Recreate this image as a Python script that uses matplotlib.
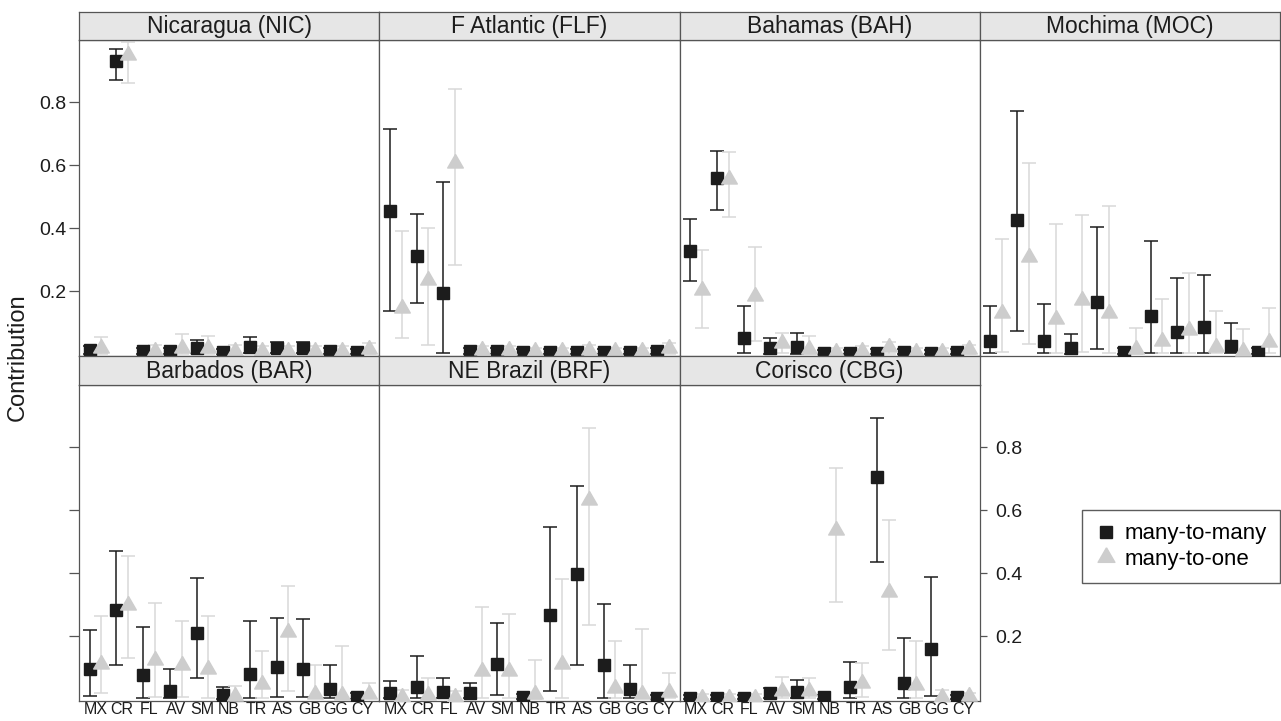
import matplotlib
matplotlib.use("Agg")
import matplotlib.pyplot as plt
from matplotlib.lines import Line2D

plt.rcParams['font.family'] = ['Liberation Sans', 'DejaVu Sans']

categories = ["MX", "CR", "FL", "AV", "SM", "NB", "TR", "AS", "GB", "GG", "CY"]

# Nicaragua (NIC)
nic_m2m = [0.013, 0.93, 0.010, 0.010, 0.020, 0.008, 0.022, 0.018, 0.020, 0.010, 0.008]
nic_m2m_lo = [0.0, 0.87, 0.0, 0.0, 0.002, 0.0, 0.002, 0.002, 0.002, 0.0, 0.0]
nic_m2m_hi = [0.025, 0.968, 0.02, 0.02, 0.044, 0.015, 0.055, 0.039, 0.040, 0.02, 0.015]
nic_m2o = [0.020, 0.95, 0.010, 0.020, 0.020, 0.010, 0.010, 0.010, 0.010, 0.010, 0.015]
nic_m2o_lo = [0.0, 0.86, 0.0, 0.0, 0.0, 0.0, 0.0, 0.0, 0.0, 0.0, 0.0]
nic_m2o_hi = [0.054, 0.99, 0.03, 0.064, 0.058, 0.03, 0.025, 0.025, 0.025, 0.025, 0.034]

# F Atlantic (FLF)
flf_m2m = [0.455, 0.311, 0.195, 0.010, 0.010, 0.008, 0.008, 0.008, 0.008, 0.008, 0.010]
flf_m2m_lo = [0.137, 0.163, 0.005, 0.0, 0.0, 0.0, 0.0, 0.0, 0.0, 0.0, 0.0]
flf_m2m_hi = [0.714, 0.444, 0.547, 0.02, 0.02, 0.015, 0.015, 0.015, 0.015, 0.015, 0.02]
flf_m2o = [0.145, 0.235, 0.608, 0.012, 0.012, 0.010, 0.010, 0.012, 0.010, 0.010, 0.020]
flf_m2o_lo = [0.052, 0.030, 0.283, 0.0, 0.0, 0.0, 0.0, 0.0, 0.0, 0.0, 0.0]
flf_m2o_hi = [0.39, 0.40, 0.843, 0.025, 0.025, 0.02, 0.02, 0.03, 0.02, 0.02, 0.035]

# Bahamas (BAH)
bah_m2m = [0.328, 0.56, 0.052, 0.018, 0.023, 0.005, 0.005, 0.005, 0.008, 0.005, 0.008]
bah_m2m_lo = [0.232, 0.457, 0.004, 0.001, 0.001, 0.0, 0.0, 0.0, 0.0, 0.0, 0.0]
bah_m2m_hi = [0.429, 0.644, 0.154, 0.052, 0.066, 0.012, 0.012, 0.015, 0.015, 0.012, 0.015]
bah_m2o = [0.203, 0.556, 0.185, 0.034, 0.015, 0.007, 0.010, 0.022, 0.008, 0.008, 0.015]
bah_m2o_lo = [0.084, 0.436, 0.041, 0.003, 0.0, 0.0, 0.0, 0.0, 0.0, 0.0, 0.0]
bah_m2o_hi = [0.332, 0.642, 0.339, 0.068, 0.058, 0.02, 0.025, 0.038, 0.02, 0.02, 0.03]

# Mochima (MOC)
moc_m2m = [0.042, 0.425, 0.042, 0.018, 0.166, 0.007, 0.122, 0.071, 0.085, 0.026, 0.007]
moc_m2m_lo = [0.002, 0.074, 0.002, 0.0, 0.015, 0.0, 0.005, 0.004, 0.004, 0.004, 0.0]
moc_m2m_hi = [0.153, 0.771, 0.159, 0.063, 0.405, 0.02, 0.36, 0.24, 0.25, 0.099, 0.02]
moc_m2o = [0.129, 0.309, 0.113, 0.171, 0.129, 0.015, 0.042, 0.076, 0.023, 0.010, 0.039]
moc_m2o_lo = [0.007, 0.032, 0.004, 0.007, 0.002, 0.0, 0.002, 0.002, 0.002, 0.0, 0.002]
moc_m2o_hi = [0.366, 0.607, 0.414, 0.442, 0.471, 0.083, 0.175, 0.258, 0.137, 0.081, 0.147]

# Barbados (BAR)
bar_m2m = [0.094, 0.283, 0.078, 0.026, 0.21, 0.013, 0.081, 0.103, 0.094, 0.031, 0.008]
bar_m2m_lo = [0.01, 0.107, 0.005, 0.002, 0.066, 0.0, 0.005, 0.006, 0.006, 0.005, 0.0]
bar_m2m_hi = [0.218, 0.471, 0.23, 0.094, 0.384, 0.037, 0.248, 0.259, 0.255, 0.108, 0.02]
bar_m2o = [0.113, 0.298, 0.124, 0.108, 0.097, 0.010, 0.048, 0.214, 0.017, 0.013, 0.017]
bar_m2o_lo = [0.02, 0.131, 0.006, 0.006, 0.002, 0.0, 0.002, 0.026, 0.002, 0.002, 0.002]
bar_m2o_hi = [0.265, 0.455, 0.304, 0.249, 0.263, 0.042, 0.153, 0.358, 0.108, 0.17, 0.05]

# NE Brazil (BRF)
brf_m2m = [0.018, 0.039, 0.023, 0.020, 0.11, 0.006, 0.267, 0.397, 0.107, 0.031, 0.005]
brf_m2m_lo = [0.002, 0.002, 0.002, 0.002, 0.013, 0.0, 0.026, 0.108, 0.005, 0.005, 0.0]
brf_m2m_hi = [0.057, 0.136, 0.068, 0.052, 0.243, 0.015, 0.545, 0.676, 0.302, 0.108, 0.012]
brf_m2o = [0.008, 0.013, 0.008, 0.09, 0.09, 0.017, 0.113, 0.632, 0.034, 0.017, 0.022]
brf_m2o_lo = [0.0, 0.0, 0.0, 0.002, 0.002, 0.0, 0.002, 0.235, 0.002, 0.002, 0.002]
brf_m2o_hi = [0.03, 0.066, 0.025, 0.291, 0.27, 0.124, 0.38, 0.861, 0.184, 0.223, 0.083]

# Corisco (CBG)
cbg_m2m = [0.005, 0.005, 0.005, 0.018, 0.022, 0.006, 0.039, 0.706, 0.05, 0.159, 0.006]
cbg_m2m_lo = [0.0, 0.0, 0.0, 0.002, 0.002, 0.0, 0.002, 0.436, 0.002, 0.01, 0.0]
cbg_m2m_hi = [0.012, 0.012, 0.012, 0.034, 0.06, 0.012, 0.118, 0.891, 0.193, 0.388, 0.012]
cbg_m2o = [0.005, 0.005, 0.005, 0.026, 0.026, 0.536, 0.05, 0.341, 0.044, 0.006, 0.010]
cbg_m2o_lo = [0.0, 0.0, 0.0, 0.002, 0.002, 0.309, 0.006, 0.156, 0.002, 0.0, 0.0]
cbg_m2o_hi = [0.015, 0.015, 0.015, 0.071, 0.066, 0.732, 0.115, 0.568, 0.184, 0.03, 0.02]

site_titles = ["Nicaragua (NIC)", "F Atlantic (FLF)", "Bahamas (BAH)", "Mochima (MOC)",
               "Barbados (BAR)", "NE Brazil (BRF)", "Corisco (CBG)"]
site_data = [
    (nic_m2m, nic_m2m_lo, nic_m2m_hi, nic_m2o, nic_m2o_lo, nic_m2o_hi),
    (flf_m2m, flf_m2m_lo, flf_m2m_hi, flf_m2o, flf_m2o_lo, flf_m2o_hi),
    (bah_m2m, bah_m2m_lo, bah_m2m_hi, bah_m2o, bah_m2o_lo, bah_m2o_hi),
    (moc_m2m, moc_m2m_lo, moc_m2m_hi, moc_m2o, moc_m2o_lo, moc_m2o_hi),
    (bar_m2m, bar_m2m_lo, bar_m2m_hi, bar_m2o, bar_m2o_lo, bar_m2o_hi),
    (brf_m2m, brf_m2m_lo, brf_m2m_hi, brf_m2o, brf_m2o_lo, brf_m2o_hi),
    (cbg_m2m, cbg_m2m_lo, cbg_m2m_hi, cbg_m2o, cbg_m2o_lo, cbg_m2o_hi),
]

W, H = 1281, 721
fig = plt.figure(figsize=(W / 100, H / 100), dpi=100)

FRAME = "#555555"
DARK = "#1c1c1c"
LIGHT = "#cdcdcd"
LIGHT_BAR = "#d8d8d8"
# equilateral triangle centred on its centroid (like R pch 17)
TRI = [(0, 1), (-0.866, -0.5), (0.866, -0.5), (0, 1)]


def px_axes(x0, y0, x1, y1):
    return fig.add_axes([x0 / W, 1 - y1 / H, (x1 - x0) / W, (y1 - y0) / H])


col_w = 300.25
rows = [(12, 40, 356), (356, 385, 701)]
yticks = [0.2, 0.4, 0.6, 0.8]
xs = list(range(1, len(categories) + 1))
off = 0.22

for k, title in enumerate(site_titles):
    r, c = (0, k) if k < 4 else (1, k - 4)
    s_top, p_top, p_bot = rows[r]
    x0 = 79 + c * col_w
    x1 = x0 + col_w

    ax = px_axes(x0, p_top, x1, p_bot)
    m, lo, hi, m1, lo1, hi1 = site_data[k]

    ax.errorbar([x - off for x in xs], m,
                yerr=[[a - b for a, b in zip(m, lo)], [b - a for a, b in zip(m, hi)]],
                fmt="s", ms=8.4, color=DARK, mec=DARK, ecolor=DARK,
                elinewidth=1.1, capsize=5, capthick=1.1, zorder=3)
    ax.errorbar([x + off for x in xs], m1,
                yerr=[[a - b for a, b in zip(m1, lo1)], [b - a for a, b in zip(m1, hi1)]],
                fmt="none", ecolor=LIGHT_BAR,
                elinewidth=1.1, capsize=5, capthick=1.1, zorder=3)
    ax.plot([x + off for x in xs], m1, linestyle="none", marker=TRI, ms=13,
            color=LIGHT, mec=LIGHT, zorder=4)

    ax.set_xlim(0.384, 11.616)
    ax.set_ylim(-0.006, 0.997)
    for sp in ax.spines.values():
        sp.set_color(FRAME)
        sp.set_linewidth(0.9)

    ax.set_xticks(xs)
    if r == 1:
        ax.set_xticklabels(categories, fontsize=11.5, color=DARK)
        ax.tick_params(axis="x", length=0, pad=1)
    else:
        ax.tick_params(axis="x", length=0, labelbottom=False)

    ax.set_yticks(yticks)
    ax.set_yticklabels(["0.2", "0.4", "0.6", "0.8"], fontsize=14, color=DARK)
    ax.tick_params(axis="y", left=False, right=False, labelleft=False, labelright=False,
                   color=FRAME, width=0.9)
    if k == 0:
        ax.tick_params(axis="y", left=True, labelleft=True, length=7, pad=2)
    elif k == 3:
        ax.tick_params(axis="y", right=True, length=5)
    elif k == 4:
        ax.tick_params(axis="y", left=True, length=7)
    elif k == 6:
        ax.tick_params(axis="y", right=True, labelright=True, length=5, pad=6)

    st = px_axes(x0, s_top, x1, p_top)
    st.set_facecolor("#e6e6e6")
    st.set_xticks([])
    st.set_yticks([])
    for sp in st.spines.values():
        sp.set_color(FRAME)
        sp.set_linewidth(0.9)
    st.text(0.5, 0.47, title, transform=st.transAxes, ha="center", va="center",
            fontsize=16.5, color=DARK)

fig.text(18 / W, 1 - 357 / H, "Contribution", rotation=90, ha="center", va="center",
         fontsize=17, color=DARK)

handles = [
    Line2D([], [], linestyle="none", marker="s", ms=9, color=DARK),
    Line2D([], [], linestyle="none", marker=TRI, ms=14, color=LIGHT),
]
leg = fig.legend(handles, ["many-to-many", "many-to-one"], loc="upper left",
                 bbox_to_anchor=(1082 / W, 1 - 510 / H), frameon=True, fancybox=False,
                 fontsize=16, handlelength=1.0, handletextpad=0.3, labelspacing=0.2,
                 borderpad=0.6, borderaxespad=0)
leg.get_frame().set_edgecolor("#333333")
leg.get_frame().set_linewidth(1.0)

fig.savefig("out.png", dpi=100)
